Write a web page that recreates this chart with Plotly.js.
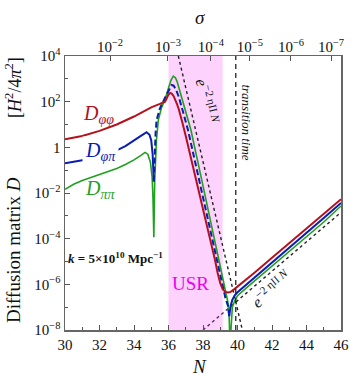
<!DOCTYPE html>
<html>
<head>
<meta charset="utf-8">
<script src="https://cdn.plot.ly/plotly-3.0.1.min.js"></script>
<style>
  html, body { margin: 0; padding: 0; background: #fff; }
  #plot { width: 361px; height: 386px; }
</style>
</head>
<body>
<div id="plot"></div>
<script>
// values (log10 of D)
var nPhiPhi = [30, 31, 32, 33, 34, 34.5, 35, 35.5, 35.8, 35.9, 36.0, 36.1, 36.2, 36.3, 36.4, 36.5, 36.6, 36.7, 36.8, 37.0, 37.5, 38.0, 38.5, 38.7, 38.85, 39.0, 39.15, 39.3, 39.45, 39.6, 39.8, 40.0, 40.5, 41, 42, 43, 44, 45, 46];
var logPhiPhi = [0.35, 0.5, 0.72, 1.0, 1.35, 1.55, 1.75, 1.9, 2.0, 2.15, 2.32, 2.38, 2.34, 2.24, 2.08, 1.88, 1.66, 1.4, 1.1, 0.5, -1.07, -2.69, -4.3, -4.95, -5.5, -5.95, -6.22, -6.33, -6.36, -6.33, -6.22, -6.1, -5.8, -5.48, -4.84, -4.2, -3.56, -2.92, -2.27];

// D_phi_pi: solid where positive, dashed where negative
var nPhiPiA = [30, 30.5, 31, 32, 33, 33.5, 34, 34.4, 34.73, 34.9, 35.0, 35.08, 35.15];
var logPhiPiA = [-0.7, -0.64, -0.57, -0.38, -0.13, 0.05, 0.28, 0.5, 0.66, 0.55, 0.3, -0.3, -1.5];
var nPhiPiB = [35.15, 35.2, 35.25, 35.31, 35.5, 35.75, 36.0, 36.18, 36.3, 36.45, 36.6, 36.75, 36.9, 37.13, 37.5, 38.0, 38.5, 39.0, 39.3, 39.45, 39.52];
var logPhiPiB = [-1.5, -0.1, 0.6, 1.2, 1.7, 2.1, 2.5, 2.73, 2.7, 2.5, 2.2, 1.85, 1.4, 0.76, -0.5, -2.24, -3.97, -5.7, -6.6, -6.95, -7.4];
var nPhiPiC = [39.52, 39.6, 39.7, 39.85, 40.0, 40.5, 41, 42, 43, 44, 45, 46];
var logPhiPiC = [-7.4, -6.95, -6.68, -6.47, -6.35, -6.02, -5.69, -5.04, -4.39, -3.74, -3.09, -2.44];

var nPiPi = [30, 30.5, 31, 32, 33, 33.5, 34, 34.4, 34.64, 34.8, 34.95, 35.05, 35.1, 35.15, 35.2, 35.3, 35.41, 35.6, 35.8, 36.0, 36.15, 36.28, 36.4, 36.5, 36.6, 36.7, 36.85, 37.0, 37.3, 38.0, 38.5, 39.0, 39.3, 39.45, 39.52, 39.58, 39.62, 39.7, 39.85, 40.0, 40.5, 41, 42, 43, 44, 45, 46];
var logPiPi = [-1.84, -1.62, -1.45, -1.2, -0.93, -0.75, -0.55, -0.35, -0.22, -0.3, -0.65, -1.3, -2.2, -3.94, -1.5, 0.3, 1.2, 1.75, 2.1, 2.6, 2.95, 3.12, 3.05, 2.88, 2.62, 2.3, 1.9, 1.5, 0.76, -1.69, -3.44, -5.19, -6.24, -6.8, -7.5, -9, -8, -7.0, -6.7, -6.5, -6.17, -5.85, -5.2, -4.56, -3.91, -3.27, -2.57];

// guide lines e^{-2 eta N}
var nFall = [36.57, 40.28];
var logFall = [4, -8];
var nRiseA = [38.0, 39.65];
var logRiseA = [-8, -6.94];
var nRiseB = [39.65, 46];
var logRiseB = [-6.94, -2.85];

var usrStart = 36, usrEnd = 39.14, transitionN = 39.9;

// top axis: sigma
var sigmaTickN = [32.61, 35.97, 38.46, 40.72, 43.10, 45.42];
var sigmaTickText = ['10<sup>−2</sup>', '10<sup>−3</sup>', '10<sup>−4</sup>', '10<sup>−5</sup>', '10<sup>−6</sup>', '10<sup>−7</sup>'];

var yTickVals = [1e-8, 1e-6, 1e-4, 1e-2, 1, 1e2, 1e4];
var yTickText = ['10<sup>−8</sup>', '10<sup>−6</sup>', '10<sup>−4</sup>', '10<sup>−2</sup>', '1', '10<sup>2</sup>', '10<sup>4</sup>'];
var yMinorVals = [1e-7, 1e-5, 1e-3, 1e-1, 10, 1e3];

function pow10(arr) { return arr.map(v => Math.pow(10, v)); }

var red = '#b3121c', blue = '#0b1cb0', green = '#1fa01f';
var font = '"Liberation Serif", serif';

var data = [
  {x: nFall, y: pow10(logFall), mode: 'lines', line: {color: '#222', width: 1.4, dash: 'dot'}},
  {x: nRiseA, y: pow10(logRiseA), mode: 'lines', line: {color: '#5b2a66', width: 1.4, dash: 'dot'}},
  {x: nRiseB, y: pow10(logRiseB), mode: 'lines', line: {color: '#222', width: 1.4, dash: 'dot'}},
  {x: nPiPi, y: pow10(logPiPi), mode: 'lines', line: {color: green, width: 1.6}},
  {x: nPhiPiA, y: pow10(logPhiPiA), mode: 'lines', line: {color: blue, width: 2}},
  {x: nPhiPiB, y: pow10(logPhiPiB), mode: 'lines', line: {color: blue, width: 2, dash: '6px,3px'}},
  {x: nPhiPiC, y: pow10(logPhiPiC), mode: 'lines', line: {color: blue, width: 2}},
  {x: nPhiPhi, y: pow10(logPhiPhi), mode: 'lines', line: {color: red, width: 2}},
  {x: [30], y: [null], xaxis: 'x2', mode: 'lines'}
];

function ann(text, x, y, opts) {
  return Object.assign({text: text, x: x, y: y, xref: 'paper', yref: 'paper',
    xanchor: 'center', yanchor: 'middle',
    showarrow: false, font: {family: font, size: 14, color: '#111'}}, opts || {});
}

var layout = {
  width: 361, height: 386,
  margin: {l: 65, r: 20, t: 56, b: 56},
  paper_bgcolor: '#fff', plot_bgcolor: '#fff',
  showlegend: false,
  font: {family: font, size: 14, color: '#111'},
  xaxis: {
    range: [30, 46], dtick: 2, ticks: 'inside', ticklen: 5, tickcolor: '#555',
    showline: true, linecolor: '#666', linewidth: 1.5, mirror: true,
    showgrid: false, zeroline: false, tickfont: {family: font, size: 15},
    minor: {dtick: 1, ticks: 'inside', ticklen: 3, tickcolor: '#555'}
  },
  xaxis2: {
    overlaying: 'x', side: 'top', range: [30, 46],
    tickmode: 'array', tickvals: sigmaTickN, ticktext: sigmaTickText,
    ticks: 'inside', ticklen: 5, tickcolor: '#555',
    showgrid: false, zeroline: false, showline: false, tickfont: {family: font, size: 15}
  },
  yaxis: {
    type: 'log', range: [-8, 4], tickmode: 'array', tickvals: yTickVals, ticktext: yTickText,
    ticks: 'inside', ticklen: 5, tickcolor: '#555',
    showline: true, linecolor: '#666', linewidth: 1.5, mirror: true,
    showgrid: false, zeroline: false, tickfont: {family: font, size: 15},
    minor: {tickvals: yMinorVals, ticks: 'inside', ticklen: 3, tickcolor: '#555'}
  },
  shapes: [
    {type: 'rect', xref: 'x', yref: 'paper', x0: usrStart, x1: usrEnd, y0: 0, y1: 1,
      fillcolor: '#fdd2fd', line: {width: 0}, layer: 'below'},
    {type: 'line', xref: 'x', yref: 'paper', x0: transitionN, x1: transitionN, y0: 0, y1: 1,
      line: {color: '#222', width: 1.3, dash: '5px,4px'}}
  ],
  annotations: [
    ann('<i>σ</i>', 0.489, 1.14, {font: {family: font, size: 19, color: '#111'}}),
    ann('<i>N</i>', 0.489, -0.135, {font: {family: font, size: 19, color: '#111'}}),
    ann('[<i>H</i><sup>2</sup>/4<i>π</i><sup>2</sup>]', -0.185, 0.887, {textangle: -90, font: {family: font, size: 18, color: '#111'}}),
    ann('Diffusion matrix <i>D</i>', -0.185, 0.292, {textangle: -90, font: {family: font, size: 19, color: '#111'}}),
    ann('<i>D</i><sub><i>φφ</i></sub>', 0.123, 0.785, {font: {family: font, size: 20, color: red}}),
    ann('<i>D</i><sub><i>φπ</i></sub>', 0.13, 0.65, {bgcolor: '#fff', borderpad: 2, font: {family: font, size: 20, color: blue}}),
    ann('<i>D</i><sub><i>ππ</i></sub>', 0.127, 0.511, {font: {family: font, size: 20, color: green}}),
    ann('<b><i>k</i> = 5×10<sup>10</sup> Mpc<sup>−1</sup></b>', 0.005, 0.263, {xanchor: 'left', font: {family: font, size: 13, color: '#111'}}),
    ann('USR', 0.453, 0.168, {font: {family: font, size: 19, color: '#ee00ee'}}),
    ann('<i>transition time</i>', 0.658, 0.759, {textangle: 90, font: {family: font, size: 13, color: '#111'}}),
    ann('<i>e</i><sup>−2 ηII <i>N</i></sup>', 0.515, 0.835, {textangle: 77, font: {family: font, size: 16, color: '#111'}}),
    ann('<i>e</i><sup>−2 ηII <i>N</i></sup>', 0.745, 0.15, {textangle: -40, font: {family: font, size: 16, color: '#111'}})
  ]
};

Plotly.newPlot('plot', data, layout, {staticPlot: true, displayModeBar: false});
</script>
</body>
</html>
